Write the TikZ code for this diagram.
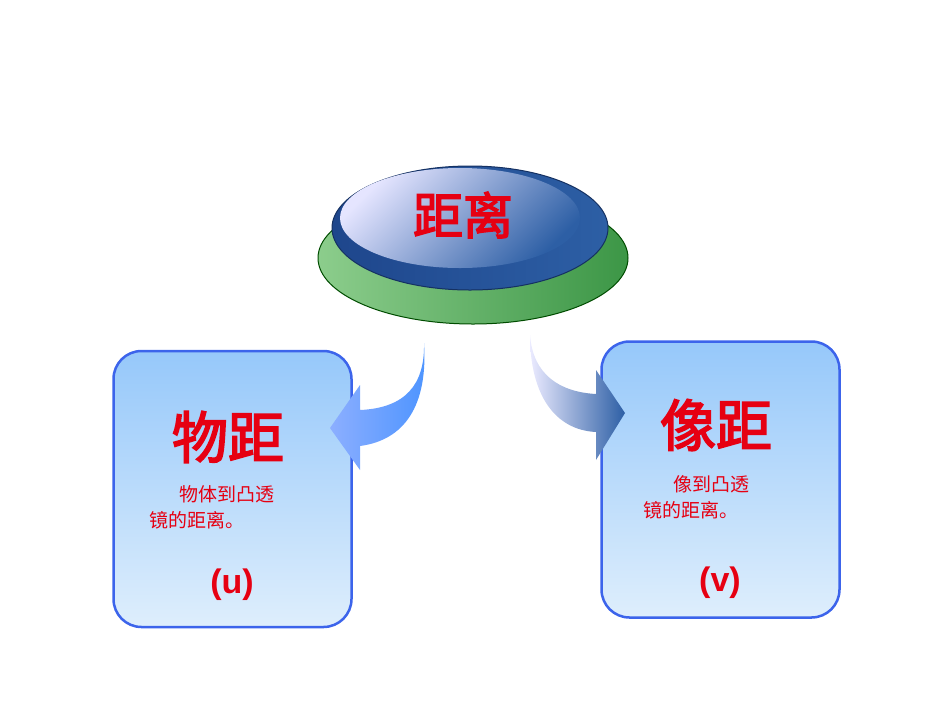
\documentclass[tikz,border=0pt]{standalone}
\usepackage{fontspec}
\setmainfont{Liberation Sans}
\newfontfamily\cjk{Noto Sans CJK SC}
\newfontfamily\cjkb[FakeBold=3]{Noto Sans CJK SC}
\definecolor{tred}{RGB}{230,0,18}
\definecolor{bord}{RGB}{60,100,235}
\definecolor{btop}{RGB}{150,200,250}
\definecolor{bbot}{RGB}{222,238,252}
\definecolor{steel}{RGB}{45,95,165}
\definecolor{steeld}{RGB}{30,70,140}
\definecolor{gl}{RGB}{140,205,140}
\definecolor{gd}{RGB}{60,150,70}
\tikzset{
 box/.style={draw=bord,line width=2.5pt,rounded corners=28pt,top color=btop,bottom color=bbot,minimum width=238pt,minimum height=276pt},
 big/.style={text=tred,font=\cjkb\fontsize{56}{60}\selectfont},
 small/.style={text=tred,font=\cjk\fontsize{19}{26}\selectfont,align=left},
 lab/.style={text=tred,font=\bfseries\fontsize{34}{38}\selectfont}
}
\begin{document}
\begin{tikzpicture}[x=1pt,y=-1pt]
\useasboundingbox (0,0) rectangle (950,713);
% top button
\shade[left color=gl, right color=gd] (473,258) ellipse (155 and 66);
\draw[green!30!black,line width=1pt] (473,258) ellipse (155 and 66);
\shade[left color=steeld,right color=steel] (470,228) ellipse (138 and 62);
\draw[steeld!70!black,line width=1pt] (470,228) ellipse (138 and 62);
\shade[top color=blue!10!white,bottom color=steel,shading angle=45] (460,218) ellipse (120 and 50);
\node[big,font=\cjkb\fontsize{50}{54}\selectfont] (t) at (463,215) {距离};
% boxes
\node[box] (L) at (232.5,489) {};
\node[box] (R) at (720.5,479.5) {};
% arrows
\shade[left color=cyan!30!blue!45, right color=cyan!40!blue!70]
 (424,343) .. controls (425,385) and (405,408) .. (360,410) -- (360,385) -- (330,428) -- (360,470) -- (360,446) .. controls (405,440) and (428,405) .. (424,343) -- cycle;
\shade[left color=blue!8!white, right color=steel]
 (530,335) .. controls (533,375) and (560,392) .. (596,394) -- (596,370) -- (625,413) -- (596,460) -- (596,432) .. controls (555,430) and (530,395) .. (530,335) -- cycle;
\node[big] (lt) at (228,437) {物距};
\node[small,anchor=north west] (ls) at (146,482) {\hspace{30pt}物体到凸透\\镜的距离。};
\node[lab] (lu) at (232,585) {(u)};
\node[big] (rt) at (716,425) {像距};
\node[small,anchor=north west] (rs) at (640,472) {\hspace{30pt}像到凸透\\镜的距离。};
\node[lab] (rv) at (720,583) {(v)};
\end{tikzpicture}
\end{document}
